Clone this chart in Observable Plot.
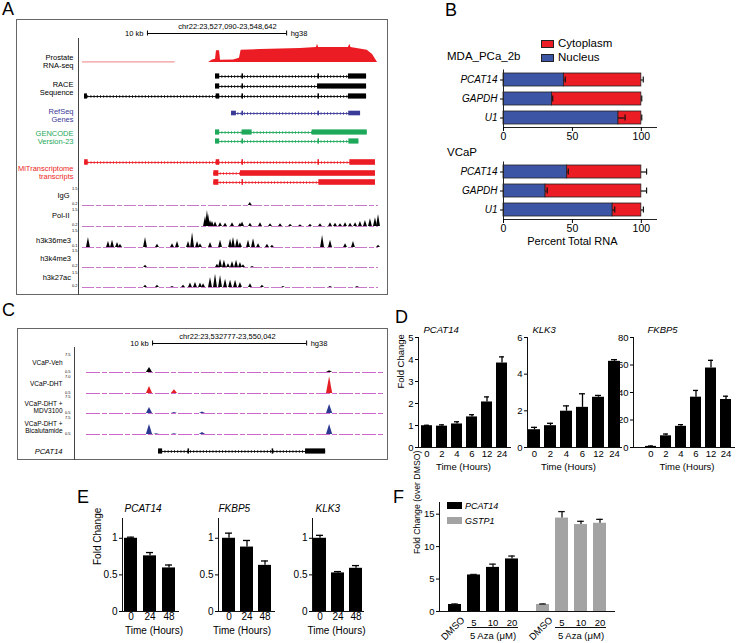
<!DOCTYPE html>
<html><head><meta charset="utf-8">
<script src="https://cdn.jsdelivr.net/npm/d3@7"></script>
<script src="https://cdn.jsdelivr.net/npm/@observablehq/plot@0.6"></script>
<style>
body{margin:0;background:#fff;font-family:"Liberation Sans",Arial,Helvetica,sans-serif;}
#root{position:relative;width:736px;height:643px;overflow:hidden;background:#fff;}
.ital [aria-label="y-axis tick label"]{font-style:italic;}
</style></head><body><div id="root"></div>
<script>
// ================= DATA =================
// ---- Panel A: UCSC view (positions in kb from region start) ----
const regionAChrom = "chr22";
const regionAStart = 23527090;
const regionAEnd = 23548642;
const scaleBarA = [4.81, 14.81];
const trackLabelsA = ["Prostate\nRNA-seq", "RACE\nSequence", "RefSeq\nGenes", "GENCODE\nVersion-23", "MiTranscriptome\ntranscripts"];
const rnaSeqLowCoverage = [0.14, 6.8];
const rnaSeqCoverage = [[9.2,0],[9.48,2.5],[9.7,3.3],[9.77,11.7],[9.99,11.7],[10.06,2.3],[11.0,2.5],[11.42,4.3],[11.54,12.3],[12.93,13],[15.8,14],[16.95,15],[17.03,18.3],[17.1,15],[19.25,15],[19.35,18.3],[19.43,15],[20.6,12.3],[20.98,8],[21.34,0]];
const raceTranscripts = [
  [[9.7,10.0],[11.6,11.71],[17.06,17.17],[19.25,20.55]],
  [[9.7,10.0],[11.6,11.71],[17.03,20.55]],
  [[0.29,0.5],[9.75,10.0],[11.6,11.71],[17.06,17.17],[19.25,20.55]]
];
const refseqTranscripts = [
  [[10.85,11.2],[11.6,11.71],[17.06,17.17],[19.27,20.12]]
];
const gencodeTranscripts = [
  [[9.7,10.0],[11.61,12.33],[16.64,20.6]],
  [[9.7,10.0],[11.6,11.71],[17.06,17.17],[19.28,20.0]]
];
const miTranscripts = [
  [[0.3,0.55],[9.75,10.0],[11.6,11.71],[17.06,17.17],[19.35,21.19]],
  [[9.58,9.94],[11.49,21.19]],
  [[9.58,9.94],[11.6,11.71],[17.12,21.19]]
];
const chipLabels = ["IgG", "Pol-II", "h3k36me3", "h3k4me3", "h3k27ac"];
const chipMaxLabels = ["1.5", "1.5", "1.5", "1.5", "1.5"];
const chipMinLabels = ["0.2", "0.2", "0.1", "0.2", "0.2"];
const chipIgG = [[12.2,0.27]];
const chipPolII = [[8.98,0.9],[9.12,1.45],[9.2,1.1],[9.34,0.55],[9.48,0.45],[9.7,0.4],[10.06,0.35],[10.42,0.3],[10.92,0.35],[11.49,0.3],[11.64,0.4],[12.21,0.3],[12.93,0.35],[13.65,0.25],[14.37,0.25],[15.09,0.2],[15.8,0.15],[16.52,0.2],[17.24,0.25],[17.96,0.35],[18.32,0.3],[18.68,0.25],[19.04,0.35],[19.4,0.3],[19.76,0.35],[20.11,0.45],[20.47,0.55],[20.83,0.7],[21.19,0.8],[21.41,1.1]];
const chipH3K36 = [[0.57,0.9],[2.01,0.55],[2.3,0.65],[2.66,0.45],[2.87,0.3],[4.67,0.9],[5.53,0.3],[6.61,0.35],[6.97,0.55],[7.76,0.55],[8.05,1.35],[8.41,0.55],[8.62,0.35],[9.34,0.45],[10.06,0.65],[10.78,0.75],[10.99,0.9],[11.28,0.8],[11.49,0.45],[12.07,0.65],[12.43,0.8],[12.79,0.35],[13.43,0.3],[13.79,0.2],[17.39,1.1],[17.96,0.65],[19.04,0.35],[19.61,0.55],[21.41,0.2]];
const chipH3K4 = [[4.67,0.2],[9.84,0.3],[10.06,0.75],[10.34,0.65],[10.63,0.35],[10.92,0.55],[11.21,0.65],[11.49,0.45],[11.71,0.25],[12.36,0.1]];
const chipH3K27 = [[4.67,0.2],[5.53,0.2],[6.61,0.1],[7.4,0.2],[7.9,0.4],[8.26,0.45],[8.62,0.4],[8.84,0.35],[9.34,0.9],[9.7,1.2],[10.06,1.1],[10.42,0.75],[10.78,0.65],[11.14,0.65],[11.49,0.45],[12.21,0.35],[13.07,0.2],[14.58,0.1],[17.96,0.1],[19.9,0.1]];

// ---- Panel B: fractionation (percent of total RNA) ----
const bGenes = ["PCAT14", "GAPDH", "U1"];
const bCellLines = ["MDA_PCa_2b", "VCaP"];
const bCompartments = ["Cytoplasm", "Nucleus"];
const mdaNucleus = [43.8, 35.2, 83.4];
const mdaNucleusErr = [1.0, 0.5, 4.8];
const mdaCytoErr = [1.4, 0.3, 0.3];
const vcapNucleus = [46.2, 30.5, 79.2];
const vcapNucleusErr = [0.8, 1.2, 1.5];
const vcapCytoErr = [3.8, 3.8, 1.5];
const bXLabel = "Percent Total RNA";

// ---- Panel C: AR ChIP-seq (positions in kb from 23,532,777) ----
const regionCTitle = "chr22:23,532777-23,550,042";
const regionCLength = 17.265;
const scaleBarC = [3.64, 13.64];
const arLabels = ["VCaP-Veh", "VCaP-DHT", "VCaP-DHT +\nMDV3100", "VCaP-DHT +\nBicalutamide"];
const arMaxLabels = ["7.5", "7.0", "7.5", "7.5"];
const arMinLabels = ["0.5", "0.5", "0.5", "0.5"];
const arVeh = [[3.44,2.4],[15.13,1.2]];
const arDHT = [[3.44,3.2],[5.06,2.0],[15.13,7.0]];
const arMDV = [[3.44,2.8],[5.06,0.9],[6.88,1.1],[15.13,4.0]];
const arBica = [[3.44,4.4],[3.9,0.8],[5.06,0.8],[6.88,1.3],[15.13,4.4]];
const pcat14ExonsC = [[4.03,4.29],[5.94,6.04],[11.4,11.5],[13.57,14.87]];
const geneNameC = "PCAT14";

// ---- Panel D: DHT time course ----
const dTimes = ["0", "2", "4", "6", "12", "24"];
const dGenes = ["PCAT14", "KLK3", "FKBP5"];
const dPCAT14 = [0.99, 0.97, 1.07, 1.39, 2.07, 3.84];
const dPCAT14Err = [0.02, 0.06, 0.1, 0.1, 0.23, 0.28];
const dKLK3 = [0.97, 1.19, 1.98, 2.19, 2.74, 4.7];
const dKLK3Err = [0.13, 0.13, 0.29, 0.74, 0.1, 0.09];
const dFKBP5 = [0.8, 8.5, 15.4, 36.6, 57.8, 34.9];
const dFKBP5Err = [0.3, 1.3, 1.2, 4.9, 5.6, 2.4];

// ---- Panel E: time course (decrease) ----
const eTimes = ["0", "24", "48"];
const eGenes = ["PCAT14", "FKBP5", "KLK3"];
const ePCAT14 = [1.0, 0.76, 0.595];
const ePCAT14Err = [0.015, 0.045, 0.04];
const eFKBP5 = [1.0, 0.88, 0.63];
const eFKBP5Err = [0.07, 0.09, 0.06];
const eKLK3 = [1.0, 0.527, 0.59];
const eKLK3Err = [0.04, 0.018, 0.037];

// ---- Panel F: 5-Aza treatment ----
const fConditions = ["DMSO", "5", "10", "20"];
const fGenes = ["PCAT14", "GSTP1"];
const fPCAT14 = [1.08, 5.63, 6.8, 8.1];
const fPCAT14Err = [0.08, 0.08, 0.5, 0.45];
const fGSTP1 = [1.08, 14.4, 13.4, 13.6];
const fGSTP1Err = [0.08, 1.0, 0.5, 0.6];
const fGroupLabel = "5 Aza (\u03bcM)";
const fYLabel = "Fold Change (over DMSO)";
const foldLabel = "Fold Change";
const timeLabel = "Time (Hours)";

// ================= LAYOUT / DRAWING =================
const FONT = '"Liberation Sans", Arial, Helvetica, sans-serif';
const RED = "#ec1c24", BLUE = "#3d55a5", GRAY = "#a3a3a3";
const root = document.getElementById("root");
function place(node, left, top) {
  node.style.position = "absolute"; node.style.left = left + "px"; node.style.top = top + "px";
  root.appendChild(node); return node;
}
function label(text, left, cy, o = {}) {
  const d = document.createElement("div");
  d.textContent = text;
  Object.assign(d.style, {position: "absolute", left: left + "px", top: cy + "px", transform: "translateY(-50%)",
    fontSize: (o.size || 11) + "px", lineHeight: "1", whiteSpace: "nowrap", fontStyle: o.italic ? "italic" : "normal",
    fontFamily: FONT, color: o.color || "#000"});
  root.appendChild(d); return d;
}
function rectDiv(left, top, w, h, style) {
  const d = document.createElement("div");
  Object.assign(d.style, {position: "absolute", left: left + "px", top: top + "px", width: w + "px", height: h + "px", boxSizing: "border-box"}, style);
  root.appendChild(d); return d;
}
const baseStyle = (fs) => ({fontFamily: FONT, fontSize: fs + "px", background: "transparent", overflow: "visible", color: "#000"});

function geneMarks(transcripts, ys, color, half) {
  const rows = transcripts.map((ex, i) => ({x1: ex[0][0], x2: ex[ex.length - 1][1], y: ys[i]}));
  const exons = transcripts.flatMap((ex, i) => ex.map(([a, b]) => ({x1: a, x2: b, y: ys[i]})));
  return [
    Plot.ruleY(rows, {x1: "x1", x2: "x2", y: "y", stroke: color, strokeWidth: 0.9}),
    Plot.ruleY(rows, {x1: "x1", x2: "x2", y: "y", stroke: color, strokeWidth: 3.2, strokeDasharray: "0.9,2.3", strokeOpacity: 0.75}),
    Plot.rect(exons, {x1: "x1", x2: "x2", y1: d => d.y - half, y2: d => d.y + half, fill: color})
  ];
}
function peakArea(peaks, base, k, halfw, color, v0 = 0) {
  const pts = peaks.flatMap(([p, v], i) => [
    {id: i, x: p - halfw, b: base, t: base},
    {id: i, x: p, b: base, t: base - (v - v0) * k},
    {id: i, x: p + halfw, b: base, t: base}]);
  return Plot.areaY(pts, {x: "x", y1: "b", y2: "t", z: "id", fill: color});
}

// ---------- Panel A ----------
{
  const W = 372, H = 276;
  const lenKb = (regionAEnd - regionAStart) / 1000;
  const pxToKb = d3.scaleLinear([64, 364], [0, lenKb]);
  const rows = {rna: 43, race: [57, 67, 77], refseq: [94], gencode: [113, 122], mi: [143, 154, 163]};
  const labelY = [42, 69, 95.5, 117.5, 153];
  const labelColors = ["#000", "#000", "#3a3a98", "#1ea85a", RED];
  const chipBase = [186, 207, 228, 248, 268];
  const chipLabelY = [176, 196, 221, 239, 258];
  const chipLabelX = [53, 53, 54.5, 54.5, 54.5];
  const chipMaxY = [169, 190, 211, 231.5, 253];
  const chipSeries = [chipIgG, chipPolII, chipH3K36, chipH3K4, chipH3K27];
  const fmt = d3.format(",");
  const title = `${regionAChrom}:${fmt(regionAStart)}-${fmt(regionAEnd)}`;
  rectDiv(16, 19, W, H, {border: "1px solid #666"});
  const p = Plot.plot({
    width: W, height: H, margin: 0,
    style: baseStyle(7.5),
    x: {domain: [0, lenKb], range: [64, 364], axis: null},
    y: {domain: [0, H], range: [0, H], axis: null},
    color: {type: "identity"},
    marks: [
      Plot.ruleX([pxToKb(62)], {y1: () => 19, y2: () => H, stroke: "#444"}),
      Plot.ruleY([scaleBarA], {x1: d => d[0], x2: d => d[1], y: () => 14, stroke: "#000", strokeWidth: 1.2}),
      Plot.ruleX(scaleBarA, {x: d => d, y1: () => 11.5, y2: () => 16.5, stroke: "#000"}),
      Plot.text([scaleBarA], {x: d => d[0], y: () => 14, dx: -4, textAnchor: "end", text: () => "10 kb"}),
      Plot.text([scaleBarA], {x: d => d[1], y: () => 14, dx: 4, textAnchor: "start", text: () => "hg38"}),
      Plot.text([title], {frameAnchor: "top-left", dx: 211, dy: 7.5, textAnchor: "middle", lineAnchor: "middle"}),
      // RNA-seq
      Plot.ruleY([rnaSeqLowCoverage], {x1: d => d[0], x2: d => d[1], y: () => rows.rna - 0.6, stroke: "#f29a9a", strokeWidth: 1.2}),
      Plot.areaY(rnaSeqCoverage, {x: d => d[0], y1: () => rows.rna, y2: d => rows.rna - d[1], fill: RED}),
      // transcripts
      ...geneMarks(raceTranscripts, rows.race, "#000", 2.6),
      ...geneMarks(refseqTranscripts, rows.refseq, "#3a3a98", 2.3),
      ...geneMarks(gencodeTranscripts, rows.gencode, "#1ea85a", 2.6),
      ...geneMarks(miTranscripts, rows.mi, RED, 2.8),
      // chip tracks
      Plot.ruleY(chipBase, {x1: () => pxToKb(66), x2: () => pxToKb(362), y: d => d, stroke: "#c977c9", strokeDasharray: "12,2,5,2"}),
      ...chipSeries.map((pk, i) => peakArea(pk, chipBase[i], 11, 0.14, "#000")),
      Plot.text(trackLabelsA.map((t, i) => ({t, y: labelY[i], c: labelColors[i]})), {frameAnchor: "left", dx: 57, y: "y", text: "t", fill: "c", textAnchor: "end", lineHeight: 1.12}),
      Plot.text(chipLabels.map((t, i) => ({t, y: chipLabelY[i], x: chipLabelX[i]})), {x: d => pxToKb(d.x), y: "y", text: "t", textAnchor: "end"}),
      Plot.text(chipMaxLabels.map((t, i) => ({t, y: chipMaxY[i]})), {x: () => pxToKb(61), y: "y", text: "t", textAnchor: "end", fontSize: 4}),
      Plot.text(chipMinLabels.map((t, i) => ({t, y: chipBase[i] - 1.8})), {x: () => pxToKb(61), y: "y", text: "t", textAnchor: "end", fontSize: 4})
    ]
  });
  place(p, 16, 19);
}

// ---------- Panel C ----------
{
  const W = 371, H = 132;
  const pxToKb = d3.scaleLinear([79, 345], [0, regionCLength]);
  const base = [44, 65, 85, 106];
  const labY = [34, 55, 78.5, 98.5];
  const maxY = [26, 48.5, 68.5, 89.5];
  const geneY = 123;
  const colors = ["#000", "#e31e24", "#2b3990", "#2b3990"];
  const series = [arVeh, arDHT, arMDV, arBica];
  rectDiv(17, 328, W, H, {border: "1px solid #666"});
  const p = Plot.plot({
    width: W, height: H, margin: 0,
    style: baseStyle(6.5),
    x: {domain: [0, regionCLength], range: [79, 345], axis: null},
    y: {domain: [0, H], range: [0, H], axis: null},
    color: {type: "identity"},
    marks: [
      Plot.ruleX([pxToKb(57)], {y1: () => 19, y2: () => H, stroke: "#444"}),
      Plot.ruleY([scaleBarC], {x1: d => d[0], x2: d => d[1], y: () => 15, stroke: "#000", strokeWidth: 1.2}),
      Plot.ruleX(scaleBarC, {x: d => d, y1: () => 12.5, y2: () => 17.5, stroke: "#000"}),
      Plot.text([scaleBarC], {x: d => d[0], y: () => 15, dx: -4, textAnchor: "end", text: () => "10 kb", fontSize: 7.5}),
      Plot.text([scaleBarC], {x: d => d[1], y: () => 15, dx: 4, textAnchor: "start", text: () => "hg38", fontSize: 7.5}),
      Plot.text([regionCTitle], {frameAnchor: "top-left", dx: 210, dy: 8.5, textAnchor: "middle", lineAnchor: "middle", fontSize: 7.5}),
      Plot.ruleY(base, {x1: () => pxToKb(69), x2: () => pxToKb(366), y: d => d, stroke: "#cc66cc", strokeDasharray: "14,2,5,2"}),
      ...series.map((pk, i) => peakArea(pk, base[i], 18 / 7, 0.2, colors[i], 0.5)),
      Plot.text(arLabels.map((t, i) => ({t, y: labY[i]})), {frameAnchor: "left", dx: 45, y: "y", text: "t", textAnchor: "end", lineHeight: 1.15}),
      Plot.text(arMaxLabels.map((t, i) => ({t, y: maxY[i]})), {frameAnchor: "left", dx: 53, y: "y", text: "t", textAnchor: "end", fontSize: 4}),
      Plot.text(arMinLabels.map((t, i) => ({t, y: base[i] - 1})), {frameAnchor: "left", dx: 53, y: "y", text: "t", textAnchor: "end", fontSize: 4}),
      ...geneMarks([pcat14ExonsC], [geneY], "#000", 2.6),
      Plot.text([geneNameC], {frameAnchor: "left", dx: 45, y: () => geneY, textAnchor: "end", fontStyle: "italic", fontSize: 7.5})
    ]
  });
  place(p, 17, 328);
}

// ---------- Panel B ----------
function bPlot(top, height, nuc, nucErr, cytoErr, xLabel) {
  const rows = bGenes.map((g, i) => ({g, n: nuc[i], ne: nucErr[i], ce: cytoErr[i]}));
  const p = Plot.plot({
    width: 236, height, marginLeft: 73, marginRight: 10, marginTop: 4.5, marginBottom: height - 62,
    className: "ital",
    style: baseStyle(10.5),
    x: {domain: [0, 111], axis: null},
    y: {domain: bGenes, paddingInner: 0.32, paddingOuter: 0.16, axis: null},
    marks: [
      Plot.barX(rows, {y: "g", x1: () => 0, x2: "n", fill: BLUE, stroke: "#222", strokeWidth: 0.8}),
      Plot.barX(rows, {y: "g", x1: "n", x2: () => 100, fill: RED, stroke: "#222", strokeWidth: 0.8}),
      Plot.ruleY(rows, {y: "g", x1: "n", x2: d => d.n + d.ne, stroke: "#111", strokeWidth: 1.2}),
      Plot.tickX(rows, {y: "g", x: d => d.n + d.ne, insetTop: 3.5, insetBottom: 3.5, stroke: "#111", strokeWidth: 1.2}),
      Plot.ruleY(rows, {y: "g", x1: () => 100, x2: d => 100 + d.ce, stroke: "#111", strokeWidth: 1.2}),
      Plot.tickX(rows, {y: "g", x: d => 100 + d.ce, insetTop: 3.5, insetBottom: 3.5, stroke: "#111", strokeWidth: 1.2}),
      Plot.frame({anchor: "left", stroke: "#222"}),
      Plot.frame({anchor: "bottom", stroke: "#222"}),
      Plot.axisX({ticks: [0, 50, 100], tickSize: 4, tickPadding: 1.5, label: null}),
      Plot.axisY({tickSize: 3, tickPadding: 3, label: null, fontStyle: "italic", fontSize: 10}),
      xLabel ? Plot.text([xLabel], {x: () => 50, frameAnchor: "bottom", dy: 22, lineAnchor: "middle", fontSize: 11}) : null
    ]
  });
  place(p, 430, top);
}
bPlot(65, 82, mdaNucleus, mdaNucleusErr, mdaCytoErr, null);
bPlot(157, 92, vcapNucleus, vcapNucleusErr, vcapCytoErr, bXLabel);
label(bCellLines[0], 447, 57, {size: 11.5});
label(bCellLines[1], 447, 152.5, {size: 11.5});
rectDiv(541, 40, 13, 8, {background: RED, border: "1px solid #222"});
rectDiv(541, 54, 13, 8, {background: BLUE, border: "1px solid #222"});
label(bCompartments[0], 558, 43.5, {size: 11.5});
label(bCompartments[1], 558, 57.5, {size: 11.5});

// ---------- Panels D and E ----------
function timeBars(c) {
  const rows = c.cats.map((t, i) => ({t, v: c.values[i], e: c.errs[i]}));
  const p = Plot.plot({
    width: c.w, height: c.h, marginLeft: c.ml, marginRight: c.mr, marginTop: c.mt, marginBottom: c.mb,
    style: baseStyle(c.fs),
    x: {domain: c.cats, paddingInner: c.pi, paddingOuter: c.po, align: c.align ?? 0.5, axis: null},
    y: {domain: c.yDomain, axis: null},
    marks: [
      Plot.barY(rows, {x: "t", y: "v", fill: "#000"}),
      Plot.ruleX(rows, {x: "t", y1: "v", y2: d => d.v + d.e, stroke: "#000", strokeWidth: 1.3}),
      Plot.tickY(rows, {x: "t", y: d => d.v + d.e, insetLeft: 3, insetRight: 3, stroke: "#000", strokeWidth: 1.3}),
      Plot.frame({anchor: "left", stroke: "#111"}),
      Plot.frame({anchor: "bottom", stroke: "#111"}),
      Plot.axisY({ticks: c.yTicks, tickSize: 3, tickPadding: 2, tickFormat: d => String(d), label: null}),
      Plot.axisX({tickSize: 0, tickPadding: c.xpad, label: null}),
      Plot.text([c.title], {frameAnchor: "top-left", dx: c.tdx, dy: c.tdy, textAnchor: "start", lineAnchor: "middle", fontStyle: "italic"}),
      Plot.text([timeLabel], {frameAnchor: "bottom", dx: c.ldx, dy: c.ldy, lineAnchor: "middle"}),
      c.ylabel ? Plot.text([c.ylabel], {frameAnchor: "left", rotate: -90, dx: c.ydx, dy: c.ydy || 0, lineAnchor: "middle"}) : null
    ]
  });
  place(p, c.left, c.top);
}
const dBase = {top: 320, h: 152, mt: 17, mb: 25, pi: 0.25, po: 0.05, fs: 9.5, xpad: 3, tdy: -8, ldy: 19, cats: dTimes};
timeBars({...dBase, left: 380, w: 135, ml: 38, mr: 5, values: dPCAT14, errs: dPCAT14Err, yDomain: [0, 5], yTicks: [0, 1, 2, 3, 4, 5], title: dGenes[0], tdx: 5, ldx: -1, ylabel: foldLabel, ydx: -18, ydy: -4});
timeBars({...dBase, left: 490, w: 135, ml: 37, mr: 4, values: dKLK3, errs: dKLK3Err, yDomain: [0, 6], yTicks: [0, 2, 4, 6], title: dGenes[1], tdx: 5, ldx: -6});
timeBars({...dBase, left: 600, w: 136, ml: 33, mr: 2, po: 0.362, align: 0.8, values: dFKBP5, errs: dFKBP5Err, yDomain: [0, 80], yTicks: [0, 20, 40, 60, 80], title: dGenes[2], tdx: 14, ldx: 3});

const eBase = {top: 500, h: 140, w: 100, ml: 42, mt: 18, mb: 29, pi: 0.3, fs: 10, xpad: 1.5, tdy: -10, ldy: 19, cats: eTimes, yDomain: [0, 1.27], yTicks: [0, 0.5, 1]};
timeBars({...eBase, left: 80, mr: 2, po: 0.1, values: ePCAT14, errs: ePCAT14Err, title: eGenes[0], tdx: 2, ldx: 3.5, ylabel: foldLabel, ydx: -25});
timeBars({...eBase, left: 176, mr: 2, po: 0.13, values: eFKBP5, errs: eFKBP5Err, title: eGenes[1], tdx: 0, ldx: -4.5});
timeBars({...eBase, left: 270, mr: 7, po: 0.0, values: eKLK3, errs: eKLK3Err, title: eGenes[2], tdx: 3, ldx: -1.5});

// ---------- Panel F ----------
function fPlot(left, width, ml, mr, values, errs, fill, withAxis) {
  const rows = fConditions.map((c, i) => ({c, v: values[i], e: errs[i]}));
  const p = Plot.plot({
    width, height: 148, marginLeft: ml, marginRight: mr, marginTop: 7, marginBottom: 32,
    style: baseStyle(9.5),
    x: {domain: fConditions, paddingInner: 0.3, paddingOuter: 0.465, axis: null},
    y: {domain: [0, 16.8], axis: null},
    marks: [
      Plot.barY(rows, {x: "c", y: "v", fill}),
      Plot.ruleX(rows, {x: "c", y1: "v", y2: d => d.v + d.e, stroke: "#111", strokeWidth: 1.3}),
      Plot.tickY(rows, {x: "c", y: d => d.v + d.e, insetLeft: 3.2, insetRight: 3.2, stroke: "#111", strokeWidth: 1.3}),
      Plot.ruleY([0], {stroke: "#111"}),
      withAxis ? [
        Plot.frame({anchor: "left", stroke: "#111"}),
        Plot.axisY({ticks: [0, 5, 10, 15], tickSize: 3, tickPadding: 2, label: null}),
        Plot.text([fYLabel], {frameAnchor: "left", rotate: -90, dx: -22, dy: -3, fontSize: 8.7, lineAnchor: "middle"})
      ] : null,
      Plot.text(fConditions.slice(0, 1), {x: d => d, y: () => 0, rotate: -45, textAnchor: "end", dx: 8, dy: 7}),
      Plot.text(fConditions.slice(1), {x: d => d, y: () => 0, dy: 11}),
      Plot.ruleY([0], {x1: () => fConditions[1], x2: () => fConditions[3], dy: 16, stroke: "#111"}),
      Plot.text([fGroupLabel], {x: () => fConditions[2], y: () => 0, dy: 24})
    ]
  });
  place(p, left, 495);
}
fPlot(395, 132, 44, 0, fPCAT14, fPCAT14Err, "#000", true);
fPlot(527, 93, 0, 5, fGSTP1, fGSTP1Err, GRAY, false);
rectDiv(447, 502, 15, 7, {background: "#000"});
rectDiv(447, 517, 15, 7, {background: GRAY});
label(fGenes[0], 465, 505.5, {size: 9, italic: true});
label(fGenes[1], 465, 520.5, {size: 9, italic: true});

// ---------- Panel letters ----------
[["A", 2, 8.5], ["B", 445, 10], ["C", 2, 310], ["D", 395, 316.5], ["E", 77, 497], ["F", 393, 497]]
  .forEach(([t, x, y]) => label(t, x, y, {size: 18}));
</script></body></html>
